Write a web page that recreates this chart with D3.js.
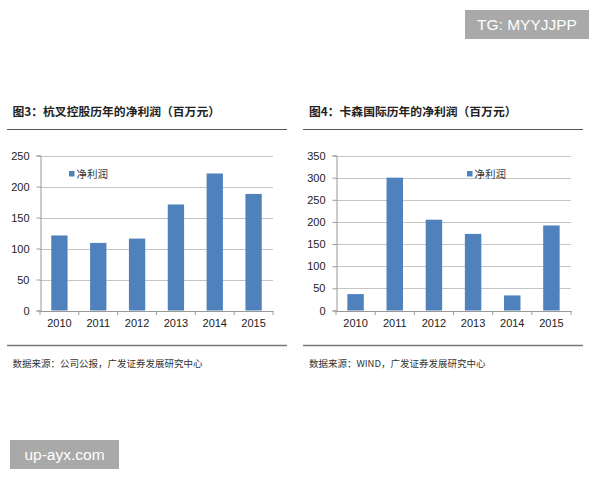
<!DOCTYPE html>
<html>
<head>
<meta charset="utf-8">
<script src="https://cdn.jsdelivr.net/npm/d3@7"></script>
<style>
  body { margin: 0; background: #fff; }
  svg { display: block; }
</style>
</head>
<body>
<svg id="chart" width="600" height="480"></svg>
<script>
// data (millions of yuan)
var years = ['2010', '2011', '2012', '2013', '2014', '2015'];
var hangchaProfit = [121, 109, 116, 171, 221, 188];
var kasenProfit = [37, 300, 205, 173, 34, 192];
var hangchaTicks = [0, 50, 100, 150, 200, 250];
var kasenTicks = [0, 50, 100, 150, 200, 250, 300, 350];
var legendLabel = '净利润';
var titles = ['图3：杭叉控股历年的净利润（百万元）', '图4：卡森国际历年的净利润（百万元）'];
var sources = ['数据来源：公司公报，广发证券发展研究中心', '数据来源：WIND，广发证券发展研究中心'];

var svg = d3.select('#chart');
var cjk = '"Noto Sans CJK SC", "Liberation Sans", sans-serif';
var barColor = '#4f81bd';

function drawPanel(opt) {
  var g = svg.append('g');

  // title + rule lines
  g.append('text')
    .attr('x', opt.titleX).attr('y', 115.5)
    .style('font-family', cjk).style('font-size', '11.8px').style('font-weight', 'bold')
    .style('fill', '#222')
    .text(opt.title);
  g.append('line').attr('x1', opt.lineX0).attr('x2', opt.lineX1)
    .attr('y1', 129.5).attr('y2', 129.5).style('stroke', '#555').style('stroke-width', 1);
  g.append('line').attr('x1', opt.lineX0).attr('x2', opt.lineX1)
    .attr('y1', 345.5).attr('y2', 345.5).style('stroke', '#777').style('stroke-width', 1.5);
  g.append('text')
    .attr('x', opt.titleX).attr('y', 367)
    .style('font-family', cjk).style('font-size', '9.5px')
    .style('fill', '#333')
    .text(opt.source);

  var x = d3.scaleBand().domain(years).range([opt.left, opt.right]).paddingInner(0.58).paddingOuter(0.29);
  var y = d3.scaleLinear().domain([0, opt.max]).range([310.5, 155.5]);

  // gridlines
  g.append('g').selectAll('line').data(opt.ticks.slice(1)).enter().append('line')
    .attr('x1', opt.left).attr('x2', opt.right)
    .attr('y1', function(d) { return Math.round(y(d)) + 0.5; })
    .attr('y2', function(d) { return Math.round(y(d)) + 0.5; })
    .style('stroke', '#c4c4c4').style('stroke-width', 1);

  // bars
  g.append('g').selectAll('rect').data(opt.values).enter().append('rect')
    .attr('x', function(d, i) { return x(years[i]); })
    .attr('y', function(d) { return y(d); })
    .attr('width', x.bandwidth())
    .attr('height', function(d) { return y(0) - y(d); })
    .style('fill', barColor);

  // y axis
  var yAxis = g.append('g').attr('transform', 'translate(' + (opt.left + 0.5) + ',0)')
    .call(d3.axisLeft(y).tickValues(opt.ticks).tickSize(4).tickPadding(7));
  yAxis.select('.domain').style('stroke', '#999');
  yAxis.selectAll('.tick line').style('stroke', '#999');
  yAxis.selectAll('text').style('font-family', '"Liberation Sans", Arial, sans-serif')
    .style('font-size', '11px').style('fill', '#222');

  // x axis (ticks between categories)
  var xAxis = g.append('g').attr('transform', 'translate(0,' + (y(0) + 0.5) + ')')
    .call(d3.axisBottom(x).tickSize(0).tickPadding(8));
  xAxis.select('.domain').style('stroke', '#999');
  xAxis.selectAll('text').style('font-family', '"Liberation Sans", Arial, sans-serif')
    .style('font-size', '11px').style('fill', '#222');
  var step = x.step();
  xAxis.selectAll('.sep').data(d3.range(years.length + 1)).enter().append('line')
    .attr('x1', function(i) { return opt.left + i * step; })
    .attr('x2', function(i) { return opt.left + i * step; })
    .attr('y1', 0).attr('y2', 4).style('stroke', '#999');

  // legend
  g.append('rect').attr('x', opt.legendX).attr('y', 171).attr('width', 5.5).attr('height', 5.5)
    .style('fill', barColor);
  g.append('text').attr('x', opt.legendX + 7.5).attr('y', 178)
    .style('font-family', cjk).style('font-size', '10.5px').style('fill', '#333')
    .text(legendLabel);
}

drawPanel({ title: titles[0], source: sources[0], values: hangchaProfit, ticks: hangchaTicks, max: 250,
  left: 40, right: 273, titleX: 12.5, lineX0: 7, lineX1: 287, legendX: 69 });
drawPanel({ title: titles[1], source: sources[1], values: kasenProfit, ticks: kasenTicks, max: 350,
  left: 336, right: 571, titleX: 309, lineX0: 303, lineX1: 583, legendX: 467 });

// watermark boxes
function badge(x0, y0, w, h, label) {
  svg.append('rect').attr('x', x0).attr('y', y0).attr('width', w).attr('height', h).style('fill', '#a9a9a9');
  svg.append('text').attr('x', x0 + w / 2).attr('y', y0 + h / 2).attr('dy', '0.36em')
    .attr('text-anchor', 'middle')
    .style('font-family', '"Liberation Sans", Arial, sans-serif').style('font-size', '15.5px')
    .style('fill', '#fff').text(label);
}
badge(465, 10, 124, 29, 'TG: MYYJJPP');
badge(10, 440, 109, 29, 'up-ayx.com');
</script>
</body>
</html>
